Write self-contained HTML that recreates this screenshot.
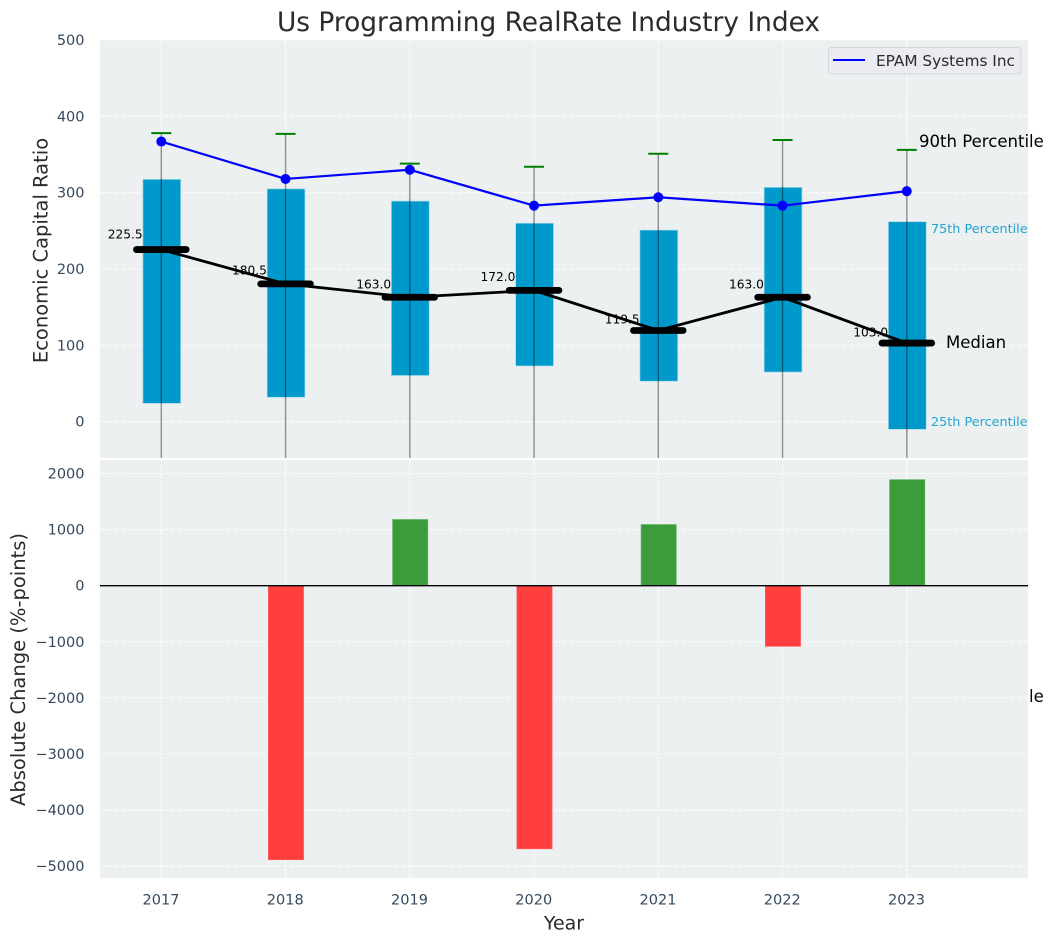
<!DOCTYPE html>
<html lang="en">
<head>
<meta charset="utf-8">
<title>Us Programming RealRate Industry Index</title>
<style>
html,body{margin:0;padding:0;background:#fff;width:1054px;height:942px;overflow:hidden}
svg{display:block;font-family:"DejaVu Sans","Liberation Sans",sans-serif}
</style>
</head>
<body>
<svg id="chart" xmlns="http://www.w3.org/2000/svg" width="1054" height="942" viewBox="0 0 1054 942">
<defs>
<clipPath id="top-clip"><rect x="100" y="40" width="928" height="418"/></clipPath>
<clipPath id="bottom-clip"><rect x="100" y="460" width="928" height="418"/></clipPath>
</defs>
</svg>
<script>
const years = [2017, 2018, 2019, 2020, 2021, 2022, 2023];
const p90 = [378, 377, 338, 334, 351, 369, 356];
const p75 = [317.5, 305, 289, 260, 251, 307, 262];
const medians = [225.5, 180.5, 163.0, 172.0, 119.5, 163.0, 103.0];
const p25 = [24, 32, 60.5, 73, 53, 65, -10];
const p10 = [-200, -190, -150, -130, -170, -180, -360];
const epam = [367, 318, 330, 283, 294, 283, 302];
const absoluteChange = [0, -4884, 1180, -4690, 1090, -1080, 1890];
const topTicks = [0, 100, 200, 300, 400, 500];
const bottomTicks = [-5000, -4000, -3000, -2000, -1000, 0, 1000, 2000];

const svg = document.getElementById('chart');
const NS = 'http://www.w3.org/2000/svg';
const TICK = '#34495e';
const DARK = '#2b2b2b';
const GRID_OPACITY = 0.8;

function X(year) { return 161.3 + (year - 2017) * 124.25; }
function YT(v) { return 421.7 - v * 0.7634; }
function YB(v) { return 585.7 - v * 0.0561; }

function make(tag, attrs, parent, txt) {
  const el = document.createElementNS(NS, tag);
  for (const k in attrs) el.setAttribute(k, attrs[k]);
  if (txt !== undefined) el.textContent = txt;
  (parent || svg).appendChild(el);
  return el;
}
function group(clip) {
  return make('g', clip ? { 'clip-path': 'url(#' + clip + ')' } : {});
}
let el;

el = make('rect', { x: 100, y: 40, width: 928, height: 418, fill: '#ecf0f1' });



const topG = group('top-clip');



topTicks.forEach(function (t) {
  el = make('line', { x1: 100, x2: 1028, y1: YT(t), y2: YT(t), stroke: '#fff', 'stroke-width': 1.1, 'stroke-dasharray': '5,2', opacity: GRID_OPACITY }, topG);
  
  
  el = make('text', { x: 84.5, y: YT(t) + 5, 'text-anchor': 'end', 'font-size': 14.5, fill: TICK }, svg, String(t));
  
  
});
years.forEach(function (y) {
  el = make('line', { x1: X(y), x2: X(y), y1: 40, y2: 458, stroke: '#fff', 'stroke-width': 1.1, 'stroke-dasharray': '5,2', opacity: GRID_OPACITY }, topG);
  
  
});

years.forEach(function (y, i) {
  el = make('text', { x: X(y) - 18.6, y: YT(medians[i] * 1.05) - 2.6, 'text-anchor': 'end', 'font-size': 12.2, fill: '#000' }, svg, medians[i].toFixed(1));
  
  
});

const marks = group('top-clip');



years.forEach(function (y, i) {
  el = make('rect', { x: X(y) - 18.4, y: YT(p75[i]), width: 37.8, height: YT(p25[i]) - YT(p75[i]), fill: '#0099cc', stroke: '#a9d8e8', 'stroke-width': 0.7 }, marks);
  
  
  el = make('line', { x1: X(y), x2: X(y), y1: YT(p90[i]), y2: YT(p10[i]), stroke: '#000', 'stroke-width': 1.4, opacity: 0.42 }, marks);
  
  
  el = make('line', { x1: X(y) - 10, x2: X(y) + 10, y1: YT(p90[i]), y2: YT(p90[i]), stroke: '#008000', 'stroke-width': 2 }, marks);
  
  
});

el = make('polyline', { points: years.map(function (y, i) { return X(y) + ',' + YT(medians[i]); }).join(' '), fill: 'none', stroke: '#000', 'stroke-width': 2.8 }, marks);



years.forEach(function (y, i) {
  el = make('line', { x1: X(y) - 24.85, x2: X(y) + 24.85, y1: YT(medians[i]), y2: YT(medians[i]), stroke: '#000', 'stroke-width': 6.8, 'stroke-linecap': 'round' }, marks);
  
  
});

el = make('polyline', { points: years.map(function (y, i) { return X(y) + ',' + YT(epam[i]); }).join(' '), fill: 'none', stroke: '#0000ff', 'stroke-width': 2.2 }, marks);



years.forEach(function (y, i) {
  el = make('circle', { cx: X(y), cy: YT(epam[i]), r: 5, fill: '#0000ff' }, marks);
  
  
});

el = make('text', { x: 919, y: 147, 'font-size': 16.55, fill: '#000' }, svg, '90th Percentile');


el = make('text', { x: 931, y: 233, 'font-size': 12.8, fill: '#1fa6d2' }, svg, '75th Percentile');


el = make('text', { x: 946, y: 348, 'font-size': 16.55, fill: '#000' }, svg, 'Median');


el = make('text', { x: 931, y: 426, 'font-size': 12.8, fill: '#1fa6d2' }, svg, '25th Percentile');


el = make('text', { x: 919, y: 702, 'font-size': 16.55, fill: '#000' }, svg, '10th Percentile');



el = make('rect', { x: 828.5, y: 47.5, width: 192.5, height: 26.5, rx: 3, fill: '#eaecf1', stroke: '#d4d6d9', 'stroke-width': 1 });


el = make('line', { x1: 833, x2: 865, y1: 60, y2: 60, stroke: '#0000ff', 'stroke-width': 2 });


el = make('text', { x: 876, y: 66, 'font-size': 15.3, fill: DARK }, svg, 'EPAM Systems Inc');



el = make('rect', { x: 100, y: 460, width: 928, height: 418, fill: '#ecf0f1' });



const botG = group('bottom-clip');



bottomTicks.forEach(function (t) {
  el = make('line', { x1: 100, x2: 1028, y1: YB(t), y2: YB(t), stroke: '#fff', 'stroke-width': 1.1, 'stroke-dasharray': '5,2', opacity: GRID_OPACITY }, botG);
  
  
  el = make('text', { x: 84.5, y: YB(t) + 5, 'text-anchor': 'end', 'font-size': 14.5, fill: TICK }, svg, String(t).replace('-', '\u2212'));
  
  
});
years.forEach(function (y) {
  el = make('line', { x1: X(y), x2: X(y), y1: 460, y2: 878, stroke: '#fff', 'stroke-width': 1.1, 'stroke-dasharray': '5,2', opacity: GRID_OPACITY }, botG);
  
  
  el = make('text', { x: X(y) - 0.3, y: 904.5, 'text-anchor': 'middle', 'font-size': 14.5, fill: TICK }, svg, String(y));
  
  
});

years.forEach(function (y, i) {
  const v = absoluteChange[i];
  if (v === 0) return;
  const top = Math.min(YB(v), YB(0));
  const h = Math.abs(YB(v) - YB(0));
  el = make('rect', { x: X(y) - 17.2, y: top, width: 35.2, height: h, fill: v > 0 ? '#3c9c3c' : '#ff3e3e', stroke: v > 0 ? '#5cb25c' : '#ff5c5c', 'stroke-width': 0.7 }, botG);
  
  
});

el = make('line', { x1: 100, x2: 1028, y1: YB(0), y2: YB(0), stroke: '#000', 'stroke-width': 1.3 }, botG);



el = make('text', { x: 548.5, y: 31, 'text-anchor': 'middle', 'font-size': 26.4, fill: DARK }, svg, 'Us Programming RealRate Industry Index');


el = make('text', { x: 0, y: 0, transform: 'translate(47.5,250.5) rotate(-90)', 'text-anchor': 'middle', 'font-size': 19.5, fill: DARK }, svg, 'Economic Capital Ratio');


el = make('text', { x: 0, y: 0, transform: 'translate(25,669.5) rotate(-90)', 'text-anchor': 'middle', 'font-size': 19.5, fill: DARK }, svg, 'Absolute Change (%-points)');


el = make('text', { x: 564, y: 929.5, 'text-anchor': 'middle', 'font-size': 19, fill: DARK }, svg, 'Year');


</script>
</body>
</html>
